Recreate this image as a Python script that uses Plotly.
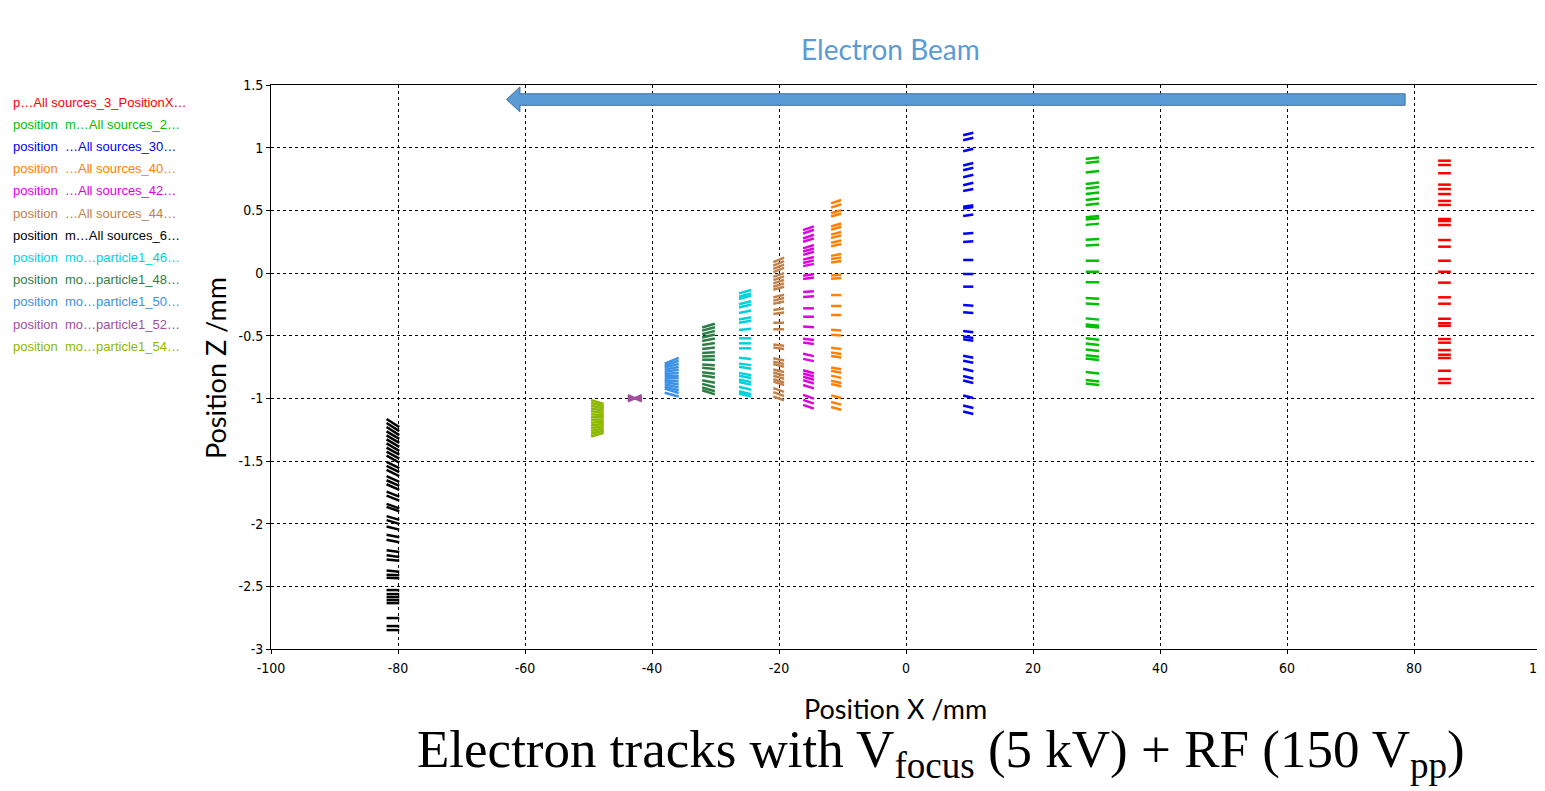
import plotly.graph_objects as go

# ---------------- data ----------------
series_names = [
    "p…All sources_3_PositionX…",
    "position\u00a0\u00a0m…All sources_2…",
    "position\u00a0\u00a0…All sources_30…",
    "position\u00a0\u00a0…All sources_40…",
    "position\u00a0\u00a0…All sources_42…",
    "position\u00a0\u00a0…All sources_44…",
    "position\u00a0\u00a0m…All sources_6…",
    "position\u00a0\u00a0mo…particle1_46…",
    "position\u00a0\u00a0mo…particle1_48…",
    "position\u00a0\u00a0mo…particle1_50…",
    "position\u00a0\u00a0mo…particle1_52…",
    "position\u00a0\u00a0mo…particle1_54…",
]
series_colors = ["#FF0000", "#00BF00", "#0000FF", "#FF8000", "#E100E1", "#C0824A",
                 "#000000", "#00D2DC", "#2E7D46", "#3C91E6", "#A24E9E", "#8CB800"]

# x extent of each track bundle [x_left, x_right] (mm)
x_red = [83.8, 85.8]
x_green = [28.3, 30.4]
x_blue = [9.0, 10.6]
x_orange = [-11.8, -10.2]
x_magenta = [-16.2, -14.5]
x_tan = [-20.9, -19.2]
x_black = [-81.8, -79.8]
x_cyan = [-26.3, -24.4]
x_dkgreen = [-32.1, -30.1]
x_ltblue = [-38.0, -35.8]
x_purple = [-43.8, -41.6]
x_yg = [-49.6, -47.6]

# z of each track segment (mid point, mm) and its rise across the segment (mm)
z_red = [0.896, 0.862, 0.796, 0.705, 0.670, 0.630, 0.575, 0.543, 0.431, 0.415, 0.383, 0.263, 0.210,
         0.098, 0.010, -0.077, -0.194, -0.245, -0.365, -0.401, -0.421, -0.527, -0.556, -0.615,
         -0.652, -0.678, -0.780, -0.846, -0.878]
t_red = [0.0] * 29

z_green = [0.915, 0.883, 0.808, 0.716, 0.681, 0.636, 0.588, 0.548, 0.449, 0.431, 0.389, 0.269, 0.223,
           0.098, 0.010, -0.074, -0.202, -0.247, -0.367, -0.415, -0.429, -0.527, -0.569, -0.617,
           -0.662, -0.689, -0.796, -0.860, -0.888]
t_green = [0.012, 0.012, 0.012, 0.012, 0.012, 0.012, 0.012, 0.012, 0.01, 0.01, 0.01, 0.006, 0.006,
           0.0, 0.0, 0.0, -0.006, -0.006, -0.01, -0.01, -0.01, -0.012, -0.012, -0.012,
           -0.012, -0.012, -0.012, -0.012, -0.012]

z_blue = [1.109, 1.069, 0.982, 0.868, 0.830, 0.774, 0.710, 0.662, 0.535, 0.521, 0.460, 0.317, 0.250,
          0.104, -0.008, -0.109, -0.258, -0.317, -0.468, -0.513, -0.535, -0.668, -0.708, -0.774,
          -0.832, -0.868, -0.987, -1.067, -1.115]
t_blue = [0.02, 0.02, 0.02, 0.02, 0.02, 0.02, 0.02, 0.015, 0.012, 0.012, 0.012, 0.006, 0.006,
          0.0, 0.0, 0.0, -0.006, -0.006, -0.01, -0.012, -0.012, -0.015, -0.015, -0.02,
          -0.02, -0.02, -0.02, -0.02, -0.02]

z_orange = [0.569, 0.535, 0.489, 0.463, 0.383, 0.357, 0.317, 0.290, 0.250, 0.223, 0.144, 0.117, 0.090,
            -0.016, -0.042, -0.176, -0.263, -0.335, -0.455, -0.495, -0.601, -0.641, -0.668, -0.761,
            -0.788, -0.828, -0.868, -0.894, -0.987, -1.040, -1.080]
t_orange = [0.027, 0.027, 0.024, 0.024, 0.024, 0.024, 0.021, 0.021, 0.018, 0.018, 0.015, 0.012, 0.012,
            0.006, 0.006, 0.0, 0.0, 0.0, -0.006, -0.006, -0.01, -0.012, -0.012, -0.015,
            -0.015, -0.018, -0.018, -0.018, -0.021, -0.021, -0.021]

z_magenta = [0.357, 0.330, 0.290, 0.263, 0.210, 0.184, 0.157, 0.117, 0.090, 0.064, -0.016, -0.042,
             -0.149, -0.189, -0.282, -0.349, -0.429, -0.529, -0.561, -0.654, -0.694, -0.788, -0.814,
             -0.840, -0.868, -0.907, -0.987, -1.027, -1.067]
t_magenta = [0.03, 0.03, 0.03, 0.027, 0.027, 0.024, 0.024, 0.021, 0.021, 0.018, 0.012, 0.012,
             0.006, 0.006, 0.0, 0.0, -0.006, -0.01, -0.012, -0.018, -0.018, -0.024, -0.024,
             -0.024, -0.027, -0.027, -0.03, -0.03, -0.03]

z_tan = [0.104, 0.077, 0.050, 0.024, -0.016, -0.042, -0.069, -0.096, -0.122, -0.184, -0.210, -0.237,
         -0.290, -0.322, -0.397, -0.449, -0.575, -0.601, -0.689, -0.716, -0.737, -0.780, -0.806,
         -0.832, -0.860, -0.880, -0.934, -0.966, -1.000]
t_tan = [0.036, 0.036, 0.033, 0.033, 0.03, 0.03, 0.027, 0.027, 0.024, 0.021, 0.021, 0.018,
         0.012, 0.012, 0.0, 0.0, -0.01, -0.012, -0.018, -0.018, -0.021, -0.021, -0.024,
         -0.024, -0.027, -0.027, -0.03, -0.03, -0.03]

z_black = [-1.197, -1.229, -1.261, -1.293, -1.325, -1.357, -1.389, -1.421, -1.453, -1.485, -1.532,
           -1.564, -1.596, -1.644, -1.676, -1.708, -1.764, -1.796, -1.860, -1.883, -1.955, -1.987,
           -2.035, -2.099, -2.139, -2.219, -2.259, -2.291, -2.378, -2.410, -2.434, -2.530, -2.562,
           -2.586, -2.610, -2.634, -2.753, -2.817, -2.849]
t_black = [-0.065, -0.065, -0.065, -0.06, -0.06, -0.06, -0.06, -0.055, -0.055, -0.055, -0.05,
           -0.05, -0.05, -0.045, -0.045, -0.045, -0.04, -0.04, -0.035, -0.035, -0.03, -0.03,
           -0.025, -0.02, -0.02, -0.015, -0.015, -0.01, -0.01, -0.005, -0.005, 0.0, 0.0,
           0.0, 0.0, 0.0, 0.0, 0.0, 0.0]

z_cyan = [-0.149, -0.176, -0.194, -0.237, -0.263, -0.309, -0.362, -0.389, -0.449, -0.521, -0.561,
          -0.601, -0.681, -0.729, -0.756, -0.806, -0.828, -0.860, -0.880, -0.920, -0.955, -0.974]
t_cyan = [0.027, 0.027, 0.027, 0.024, 0.024, 0.021, 0.018, 0.015, 0.01, 0.0, 0.0,
          0.0, -0.01, -0.012, -0.015, -0.018, -0.018, -0.021, -0.021, -0.024, -0.024, -0.024]

z_dkgreen = [-0.420, -0.446, -0.475, -0.503, -0.532, -0.567, -0.600, -0.636, -0.664, -0.692, -0.734,
             -0.761, -0.798, -0.826, -0.866, -0.898, -0.928, -0.952]
t_dkgreen = [0.03, 0.027, 0.027, 0.024, 0.02, 0.016, 0.012, 0.006, 0.003, 0.0, -0.006,
             -0.01, -0.012, -0.016, -0.02, -0.027, -0.03, -0.033]

z_ltblue = [-0.700, -0.720, -0.740, -0.760, -0.780, -0.800, -0.820, -0.840, -0.860, -0.880, -0.900,
            -0.920, -0.940, -0.970]
t_ltblue = [0.045, 0.04, 0.03, 0.025, 0.02, 0.01, 0.0, 0.0, -0.01, -0.02, -0.025,
            -0.03, -0.035, -0.03]

z_purple = [-1.000, -1.000, -1.000, -1.000, -1.000]
t_purple = [0.05, 0.025, 0.0, -0.025, -0.05]

z_yg = [-1.030, -1.050, -1.070, -1.090, -1.110, -1.130, -1.150, -1.170, -1.190, -1.210, -1.230,
        -1.250, -1.270, -1.290]
t_yg = [-0.03, -0.026, -0.022, -0.018, -0.013, -0.008, -0.003, 0.003, 0.008, 0.013, 0.018,
        0.022, 0.026, 0.03]

x_ticks = [-100, -80, -60, -40, -20, 0, 20, 40, 60, 80, 100]
x_tick_text = ["-100", "-80", "-60", "-40", "-20", "0", "20", "40", "60", "80", "100"]
y_ticks = [1.5, 1, 0.5, 0, -0.5, -1, -1.5, -2, -2.5, -3]
y_tick_text = ["1.5", "1", "0.5", "0", "-0.5", "-1", "-1.5", "-2", "-2.5", "-3"]

bundles = [
    (x_red, z_red, t_red),
    (x_green, z_green, t_green),
    (x_blue, z_blue, t_blue),
    (x_orange, z_orange, t_orange),
    (x_magenta, z_magenta, t_magenta),
    (x_tan, z_tan, t_tan),
    (x_black, z_black, t_black),
    (x_cyan, z_cyan, t_cyan),
    (x_dkgreen, z_dkgreen, t_dkgreen),
    (x_ltblue, z_ltblue, t_ltblue),
    (x_purple, z_purple, t_purple),
    (x_yg, z_yg, t_yg),
]

# ---------------- figure ----------------
fig = go.Figure()
for name, color, (xr, zs, ts) in zip(series_names, series_colors, bundles):
    xs, ys = [], []
    for z, t in zip(zs, ts):
        xs += [xr[0], xr[1], None]
        ys += [z - t / 2, z + t / 2, None]
    fig.add_trace(go.Scatter(x=xs, y=ys, mode="lines", name=name,
                             line=dict(color=color, width=2.5), showlegend=False,
                             hoverinfo="skip"))

# page has an 8px body margin: figure is drawn from screen (8, 8)
OFF = 8
W, H = 1537, 783
L, R, T, B = 263, 4, 77, 142
pw, ph = W - L - R, H - T - B

def px_x(sx):
    return (sx - OFF - L) / pw

def px_y(sy):
    return (H - B - (sy - OFF)) / ph

tick_font = dict(family="Liberation Sans Narrow, DejaVu Sans Condensed, Liberation Sans, sans-serif",
                 size=14, color="black")

fig.update_layout(
    width=W, height=H,
    margin=dict(l=L, r=R, t=T, b=B, pad=0, autoexpand=False),
    paper_bgcolor="white", plot_bgcolor="white",
    showlegend=False,
    xaxis=dict(range=[-100, 100], tickmode="array", tickvals=x_ticks, ticktext=x_tick_text,
               showgrid=True, gridcolor="black", gridwidth=1, griddash="3px,3px",
               zeroline=False, showline=True, linecolor="black", linewidth=1, mirror=True,
               ticks="outside", ticklen=4, tickcolor="black", tickfont=tick_font,
               ticklabeloverflow="allow", ticklabelstandoff=2, automargin=False),
    yaxis=dict(range=[-3, 1.5], tickmode="array", tickvals=y_ticks, ticktext=y_tick_text,
               showgrid=True, gridcolor="black", gridwidth=1, griddash="3px,3px",
               zeroline=False, showline=True, linecolor="black", linewidth=1, mirror=True,
               ticks="outside", ticklen=4, tickcolor="black", tickfont=tick_font,
               automargin=False),
)

# beam arrow (decoration)
arrow_path = ("M -62.9,1.385 L -60.8,1.484 L -60.8,1.430 L 78.6,1.430 L 78.6,1.338 "
              "L -60.8,1.338 L -60.8,1.285 Z")
fig.add_shape(type="path", path=arrow_path, xref="x", yref="y",
              fillcolor="#5B9BD5", line=dict(color="#41719C", width=1))

annotations = [
    dict(text="Electron Beam", x=px_x(890), y=px_y(49), xanchor="center", yanchor="middle",
         font=dict(family="Lato, sans-serif", size=28, color="#5B9BD5")),
    dict(text="Position X /mm", x=px_x(895), y=px_y(708), xanchor="center", yanchor="middle",
         font=dict(family="Lato, sans-serif", size=27, color="black")),
    dict(text="Position Z /mm", x=px_x(215), y=px_y(368), xanchor="center", yanchor="middle",
         textangle=-90, font=dict(family="Lato, sans-serif", size=27, color="black")),
    dict(text="Electron tracks with V<sub>focus</sub> (5 kV) + RF (150 V<sub>pp</sub>)",
         x=px_x(941), y=px_y(753), xanchor="center", yanchor="middle",
         font=dict(family="Liberation Serif, serif", size=53, color="black")),
]
for i, (name, color) in enumerate(zip(series_names, series_colors)):
    annotations.append(dict(text=name, x=px_x(11), y=px_y(102 + 22.2 * i), xanchor="left",
                            yanchor="middle",
                            font=dict(family="Liberation Sans, sans-serif", size=13, color=color)))
for a in annotations:
    a.update(xref="paper", yref="paper", showarrow=False)
fig.update_layout(annotations=annotations)

fig.write_html("out.html")
